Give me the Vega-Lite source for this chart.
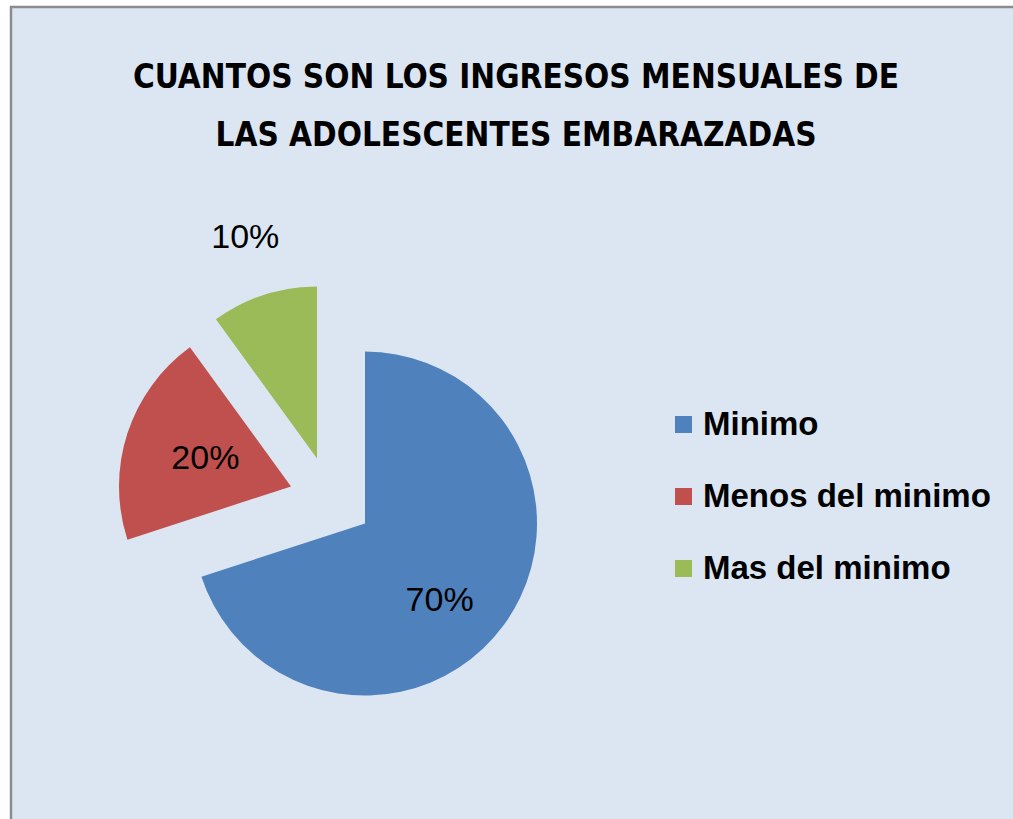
{
  "$schema": "https://vega.github.io/schema/vega-lite/v6.json",
  "width": 1010,
  "height": 815,
  "autosize": {"type": "none"},
  "padding": {"left": 11, "top": 7, "right": 0, "bottom": 0},
  "background": "#ffffff",
  "view": {"stroke": "#8c8c8c", "strokeWidth": 2.5, "fill": "#dce6f2"},
  "title": {
    "text": ["CUANTOS SON LOS INGRESOS MENSUALES  DE", "LAS ADOLESCENTES EMBARAZADAS"],
    "font": "DejaVu Sans Condensed",
    "fontSize": 33,
    "fontWeight": "bold",
    "color": "#000000",
    "anchor": "middle",
    "lineHeight": 58,
    "offset": -146
  },
  "data": {
    "values": [
      {"categoria": "Minimo", "valor": 0.7, "orden": 1},
      {"categoria": "Menos del minimo", "valor": 0.2, "orden": 2},
      {"categoria": "Mas del minimo", "valor": 0.1, "orden": 3}
    ]
  },
  "layer": [
    {
      "mark": {"type": "arc", "outerRadius": 172, "xOffset": -151, "yOffset": 109},
      "encoding": {
        "theta": {"field": "valor", "type": "quantitative", "stack": true},
        "order": {"field": "orden", "type": "quantitative"},
        "color": {
          "field": "categoria",
          "type": "nominal",
          "scale": {"domain": ["Minimo", "Menos del minimo", "Mas del minimo"], "range": ["#4f81bd", "#c0504d", "#9bbb59"]},
          "legend": {
            "title": null,
            "orient": "none",
            "legendX": 656,
            "legendY": 401,
            "symbolType": "square",
            "symbolSize": 289,
            "symbolStrokeWidth": 0,
            "labelFont": "Liberation Sans",
            "labelFontSize": 33,
            "labelFontWeight": "bold",
            "labelColor": "#000000",
            "labelOffset": 3,
            "rowPadding": 38,
            "labelLimit": 400
          }
        },
        "opacity": {"condition": {"test": "datum.categoria === 'Minimo'", "value": 1}, "value": 0}
      }
    },
    {
      "mark": {"type": "arc", "outerRadius": 172, "xOffset": -225, "yOffset": 72},
      "encoding": {
        "theta": {"field": "valor", "type": "quantitative", "stack": true},
        "order": {"field": "orden", "type": "quantitative"},
        "color": {"field": "categoria", "type": "nominal"},
        "opacity": {"condition": {"test": "datum.categoria === 'Menos del minimo'", "value": 1}, "value": 0}
      }
    },
    {
      "mark": {"type": "arc", "outerRadius": 172, "xOffset": -199, "yOffset": 44},
      "encoding": {
        "theta": {"field": "valor", "type": "quantitative", "stack": true},
        "order": {"field": "orden", "type": "quantitative"},
        "color": {"field": "categoria", "type": "nominal"},
        "opacity": {"condition": {"test": "datum.categoria === 'Mas del minimo'", "value": 1}, "value": 0}
      }
    },
    {
      "mark": {"type": "text", "radius": 112, "xOffset": -167, "yOffset": 121, "font": "Liberation Sans", "fontSize": 34, "color": "#000000"},
      "encoding": {
        "theta": {"field": "valor", "type": "quantitative", "stack": true},
        "order": {"field": "orden", "type": "quantitative"},
        "text": {"field": "valor", "type": "quantitative", "format": ".0%"},
        "opacity": {"condition": {"test": "datum.categoria === 'Minimo'", "value": 1}, "value": 0}
      }
    },
    {
      "mark": {"type": "text", "radius": 90, "xOffset": -225, "yOffset": 72, "font": "Liberation Sans", "fontSize": 34, "color": "#000000"},
      "encoding": {
        "theta": {"field": "valor", "type": "quantitative", "stack": true},
        "order": {"field": "orden", "type": "quantitative"},
        "text": {"field": "valor", "type": "quantitative", "format": ".0%"},
        "opacity": {"condition": {"test": "datum.categoria === 'Menos del minimo'", "value": 1}, "value": 0}
      }
    },
    {
      "mark": {"type": "text", "radius": 232, "xOffset": -199, "yOffset": 44, "font": "Liberation Sans", "fontSize": 34, "color": "#000000"},
      "encoding": {
        "theta": {"field": "valor", "type": "quantitative", "stack": true},
        "order": {"field": "orden", "type": "quantitative"},
        "text": {"field": "valor", "type": "quantitative", "format": ".0%"},
        "opacity": {"condition": {"test": "datum.categoria === 'Mas del minimo'", "value": 1}, "value": 0}
      }
    }
  ]
}
